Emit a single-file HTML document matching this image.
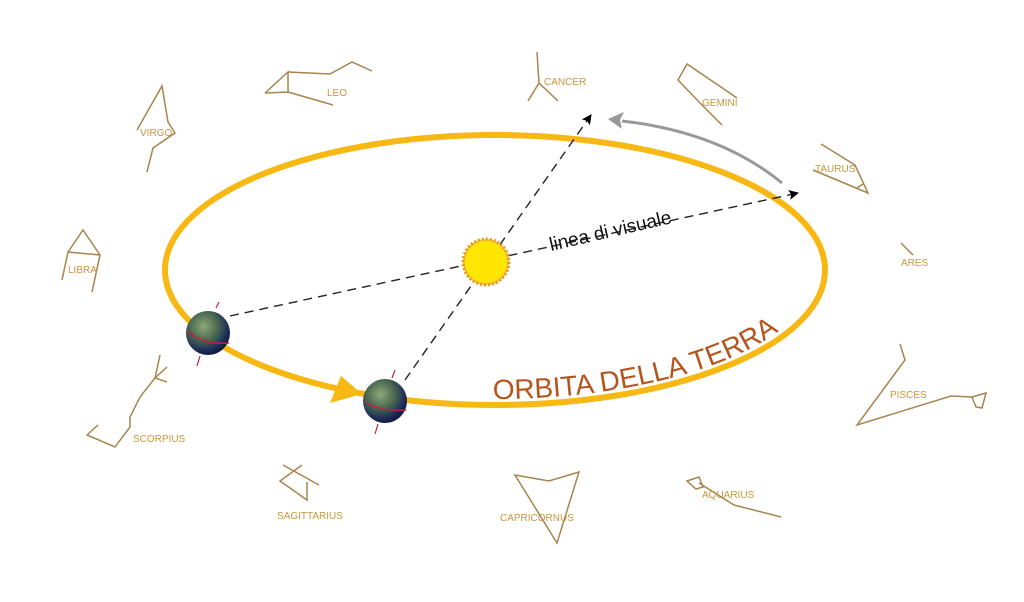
<!DOCTYPE html>
<html><head><meta charset="utf-8"><style>
html,body{margin:0;padding:0;background:#fff;}
svg{display:block;}
.c{stroke:#a8844e;stroke-width:1.5;fill:none;}
.l{font-family:"Liberation Sans",sans-serif;font-size:10px;fill:#c8963c;}
</style></head><body>
<svg width="1024" height="602" viewBox="0 0 1024 602" xmlns="http://www.w3.org/2000/svg">
<defs>
<radialGradient id="eg" cx="0.4" cy="0.35" r="0.7">
<stop offset="0" stop-color="#8fa878"/><stop offset="0.45" stop-color="#4a6a50"/><stop offset="0.8" stop-color="#1c2a5a"/><stop offset="1" stop-color="#0d1430"/>
</radialGradient>
<marker id="ab" markerWidth="10" markerHeight="10" refX="9" refY="5" orient="auto" markerUnits="userSpaceOnUse"><path d="M0,0 L10,5 L0,10 L2,5 z" fill="#000"/></marker>
</defs>

<!-- orbit -->
<ellipse cx="495" cy="270" rx="330" ry="135" fill="none" stroke="#f7b813" stroke-width="6"/>
<polygon points="362,394 341,376 330,403" fill="#f7b813"/>

<!-- lines of sight -->
<line x1="230" y1="316" x2="798" y2="193" stroke="#222" stroke-width="1.4" stroke-dasharray="9,6" marker-end="url(#ab)"/>
<line x1="405" y1="380" x2="591" y2="115" stroke="#222" stroke-width="1.4" stroke-dasharray="9,6" marker-end="url(#ab)"/>
<path d="M782,183 Q720,132 622,121" fill="none" stroke="#999" stroke-width="3"/>
<polygon points="608,119 624,112 620,120 622,129" fill="#999"/>

<!-- sun -->
<circle cx="486" cy="262" r="23" fill="#f5c230" stroke="#e89a20" stroke-width="3" stroke-dasharray="2,2"/>
<circle cx="486" cy="262" r="21" fill="#ffe600"/>

<text x="0" y="0" transform="translate(551,251) rotate(-13)" font-family="Liberation Sans, sans-serif" font-size="19" fill="#111">linea di visuale</text>

<path id="op" d="M493,399 A 322 129 0 0 0 817 270" fill="none"/>
<text font-family="Liberation Sans, sans-serif" font-size="28" fill="#b5541c"><textPath href="#op">ORBITA DELLA TERRA</textPath></text>

<!-- earths -->
<g>
<line x1="219" y1="302" x2="216" y2="308" stroke="#c02040" stroke-width="1.2"/>
<line x1="200" y1="356" x2="197" y2="366" stroke="#c02040" stroke-width="1.2"/>
<circle cx="208" cy="333" r="22" fill="url(#eg)"/>
<path d="M188,332 Q205,345 229,343" stroke="#c02040" stroke-width="1.5" fill="none"/>
</g>
<g>
<line x1="395" y1="370" x2="392" y2="378" stroke="#c02040" stroke-width="1.2"/>
<line x1="378" y1="424" x2="375" y2="434" stroke="#c02040" stroke-width="1.2"/>
<circle cx="385" cy="401" r="22" fill="url(#eg)"/>
<path d="M365,402 Q382,412 406,410" stroke="#c02040" stroke-width="1.5" fill="none"/>
</g>

<!-- constellations -->
<polyline class="c" points="265,93 288,72 288,92 265,93"/>
<polyline class="c" points="288,72 330,74 352,62 372,71"/>
<polyline class="c" points="288,92 333,105"/>
<text class="l" x="327" y="96">LEO</text>

<polyline class="c" points="137,130 162,86 168,122 175,133 153,148 147,172"/>
<text class="l" x="140" y="136">VIRGO</text>

<polyline class="c" points="62,280 68,252 83,230 100,255 92,292"/>
<line class="c" x1="68" y1="252" x2="100" y2="255"/>
<text class="l" x="68" y="273">LIBRA</text>

<polyline class="c" points="160,355 155,378 140,397 130,417 130,427 115,447 87,435 98,425"/>
<polyline class="c" points="167,367 155,378 167,382"/>
<text class="l" x="133" y="442">SCORPIUS</text>

<polyline class="c" points="537,52 539,83 528,101"/>
<line class="c" x1="539" y1="83" x2="558" y2="101"/>
<text class="l" x="544" y="85">CANCER</text>

<polyline class="c" points="737,98 687,64 678,80 700,103 722,125"/>
<text class="l" x="702" y="106">GEMINI</text>

<polyline class="c" points="821,144 855,165 868,193 813,170"/>
<line class="c" x1="857" y1="188" x2="863" y2="184"/>
<text class="l" x="815" y="172">TAURUS</text>

<line class="c" x1="901" y1="243" x2="913" y2="255"/>
<text class="l" x="901" y="266">ARES</text>

<polyline class="c" points="900,344 905,360 857,425 951,396 972,397"/>
<polygon class="c" points="972,397 986,393 982,408 976,407"/>
<text class="l" x="890" y="398">PISCES</text>

<polygon class="c" points="687,481 699,477 703,487 696,489"/>
<polyline class="c" points="699,483 734,505 781,517"/>
<text class="l" x="702" y="498">AQUARIUS</text>

<polygon class="c" points="515,475 549,481 579,472 557,543"/>
<text class="l" x="500" y="521">CAPRICORNUS</text>

<line class="c" x1="283" y1="465" x2="319" y2="485"/>
<polyline class="c" points="302,465 280,481 307,500 307,482"/>
<text class="l" x="277" y="519">SAGITTARIUS</text>
</svg>
</body></html>
